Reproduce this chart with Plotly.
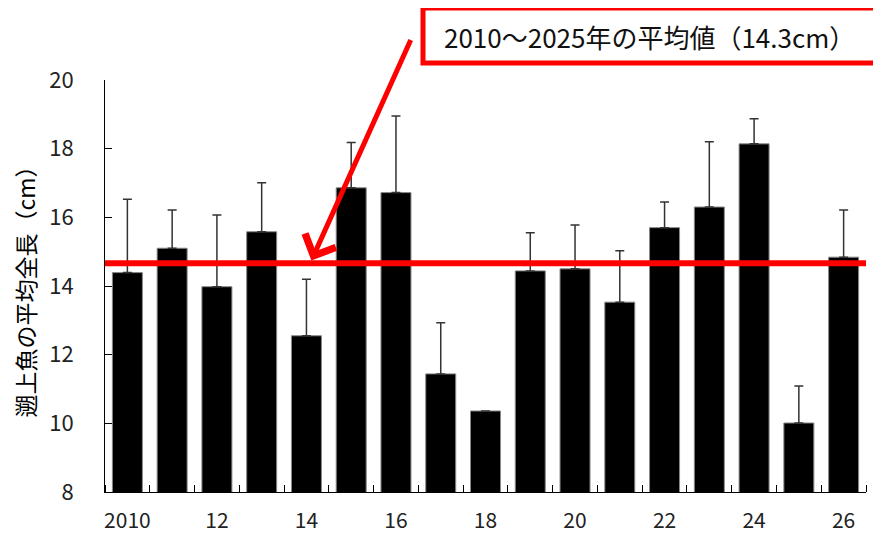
import plotly.graph_objects as go

years = list(range(2010, 2027))
mean_length = [14.39, 15.10, 13.98, 15.58, 12.55, 16.86, 16.72, 11.44, 10.36,
               14.44, 14.50, 13.53, 15.70, 16.30, 18.14, 10.01, 14.84]
sd_upper = [2.14, 1.11, 2.09, 1.43, 1.65, 1.32, 2.23, 1.49, None,
            1.11, 1.28, 1.50, 0.75, 1.90, 0.73, 1.08, 1.37]
tick_vals = [2010, 2012, 2014, 2016, 2018, 2020, 2022, 2024, 2026]
tick_text = ["2010", "12", "14", "16", "18", "20", "22", "24", "26"]
avg_line = 14.66
avg_label = "2010～2025年の平均値（14.3cm）"
y_title = "遡上魚の平均全長（cm）"

FONT = "Noto Sans CJK JP, Noto Sans, sans-serif"

# page body adds an 8px offset; figure is sized so the canvas still fills 881x535
W, H = 873, 527
ML, MR, MT, MB = 97, 15, 72, 43
PW, PH = W - ML - MR, H - MT - MB


def px_x(x):  # page pixel -> paper x
    return (x - 8 - ML) / PW


def px_y(y):  # page pixel -> paper y
    return 1 - (y - 8 - MT) / PH


fig = go.Figure()
fig.add_trace(go.Bar(
    x=years, y=mean_length,
    width=0.67,
    marker=dict(color="black", line=dict(color="#888888", width=1)),
    error_y=dict(type="data", symmetric=False, array=sd_upper,
                 arrayminus=[0] * len(years),
                 color="#333333", thickness=1.5, width=4.5),
    showlegend=False,
))

fig.update_layout(
    width=W, height=H,
    margin=dict(l=ML, r=MR, t=MT, b=MB),
    plot_bgcolor="white", paper_bgcolor="white",
    font=dict(family=FONT, color="#222222"),
    xaxis=dict(
        range=[2009.5, 2026.5], automargin=False,
        tickmode="array", tickvals=tick_vals, ticktext=tick_text,
        ticks="", showgrid=False, zeroline=False,
        showline=True, linecolor="black", linewidth=1,
        tickfont=dict(size=21, family=FONT, color="#222222"),
        ticklabelstandoff=10,
        minor=dict(tickmode="linear", tick0=2009.5, dtick=1,
                   ticks="inside", ticklen=7, tickcolor="black", tickwidth=1,
                   showgrid=False),
    ),
    yaxis=dict(
        range=[8, 20], tickmode="linear", tick0=8, dtick=2, automargin=False,
        ticks="inside", ticklen=7, tickcolor="black", tickwidth=1,
        showgrid=False, zeroline=False,
        showline=True, linecolor="black", linewidth=1,
        tickfont=dict(size=22, family=FONT, color="#222222"),
        ticklabelstandoff=26,
        title=dict(text=y_title, font=dict(size=23, family=FONT, color="black"),
                   standoff=14),
    ),
    shapes=[
        dict(type="line", xref="x", yref="y",
             x0=2009.5, x1=2026.5, y0=avg_line, y1=avg_line,
             line=dict(color="#FF0000", width=6), layer="above"),
        dict(type="rect", xref="paper", yref="paper",
             x0=px_x(423), x1=px_x(895), y0=px_y(63), y1=px_y(8),
             line=dict(color="#FF0000", width=5), fillcolor="white",
             layer="above"),
    ],
    annotations=[
        dict(x=px_x(442), y=px_y(36), xref="paper", yref="paper",
             xanchor="left", yanchor="middle", showarrow=False,
             text=avg_label, font=dict(size=26, family=FONT, color="#111111")),
        dict(x=2014.11, y=avg_line + 0.08, xref="x", yref="y",
             ax=100, ay=-222, axref="pixel", ayref="pixel",
             showarrow=True, arrowhead=4, arrowwidth=5, arrowsize=1.3,
             arrowcolor="#FF0000", text=""),
    ],
)

fig.write_html("out.html")
